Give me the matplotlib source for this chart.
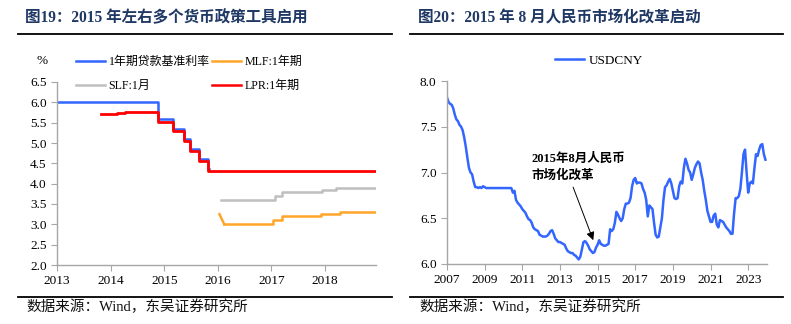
import matplotlib
matplotlib.use("Agg")
import matplotlib.pyplot as plt
import pandas as pd
from matplotlib.lines import Line2D

plt.rcParams['font.family'] = ['Liberation Serif', 'Noto Sans CJK SC']
plt.rcParams['axes.unicode_minus'] = False

# ---- 图19 数据 (年份小数, 数值) ----
loan_x = [2013.0, 2014.89, 2015.16, 2015.36, 2015.49, 2015.65, 2015.81, 2015.83]
loan_y = [6.0, 5.6, 5.35, 5.1, 4.85, 4.6, 4.35, 4.35]

lpr_x = [2013.82, 2013.97, 2014.12, 2014.27, 2014.45, 2014.89, 2015.16, 2015.36,
         2015.49, 2015.65, 2015.81, 2018.3, 2018.95]
lpr_y = [5.71, 5.72, 5.73, 5.77, 5.76, 5.51, 5.30, 5.06, 4.81, 4.56, 4.30, 4.31, 4.31]

slf_x = [2016.06, 2017.07, 2017.19, 2017.94, 2018.2, 2018.95]
slf_y = [3.6, 3.7, 3.8, 3.85, 3.9, 3.9]

mlf_x = [2016.03, 2016.12, 2017.02, 2017.19, 2017.93, 2018.27, 2018.95]
mlf_y = [3.25, 3.0, 3.1, 3.2, 3.25, 3.3, 3.3]

# ---- 图20 数据: USDCNY 月度, 2007-01 至 2023-12 ----
usdcny = [
    7.82, 7.77, 7.75, 7.74, 7.70, 7.63, 7.58, 7.56, 7.52, 7.50, 7.46, 7.38,  # 2007
    7.28, 7.16, 7.05, 7.00, 6.98, 6.90, 6.84, 6.84, 6.83, 6.84, 6.83, 6.85,  # 2008
    6.84, 6.83, 6.83, 6.83, 6.83, 6.83, 6.83, 6.83, 6.83, 6.83, 6.83, 6.83,  # 2009
    6.83, 6.83, 6.83, 6.83, 6.83, 6.83, 6.78, 6.80, 6.70, 6.67, 6.65, 6.63,  # 2010
    6.60, 6.58, 6.56, 6.52, 6.49, 6.48, 6.45, 6.40, 6.38, 6.37, 6.36, 6.32,  # 2011
    6.31, 6.30, 6.30, 6.30, 6.31, 6.33, 6.36, 6.37, 6.33, 6.28, 6.26, 6.24,  # 2012
    6.24, 6.23, 6.22, 6.21, 6.17, 6.14, 6.13, 6.12, 6.12, 6.10, 6.09, 6.07,  # 2013
    6.05, 6.08, 6.16, 6.24, 6.25, 6.23, 6.20, 6.16, 6.14, 6.12, 6.13, 6.18,  # 2014
    6.21, 6.26, 6.22, 6.21, 6.20, 6.20, 6.21, 6.22, 6.38, 6.36, 6.38, 6.45,  # 2015
    6.57, 6.54, 6.50, 6.47, 6.50, 6.60, 6.66, 6.66, 6.67, 6.72, 6.85, 6.92,  # 2016
    6.94, 6.88, 6.89, 6.89, 6.88, 6.82, 6.78, 6.70, 6.52, 6.64, 6.62, 6.60,  # 2017
    6.45, 6.32, 6.29, 6.30, 6.40, 6.50, 6.70, 6.84, 6.86, 6.90, 6.93, 6.88,  # 2018
    6.80, 6.72, 6.71, 6.72, 6.85, 6.90, 6.88, 7.05, 7.15, 7.10, 7.03, 7.00,  # 2019
    6.92, 6.98, 7.05, 7.09, 7.12, 7.10, 7.00, 6.92, 6.80, 6.70, 6.58, 6.52,  # 2020
    6.46, 6.46, 6.53, 6.55, 6.43, 6.40, 6.48, 6.47, 6.46, 6.43, 6.40, 6.38,  # 2021
    6.36, 6.33, 6.33, 6.55, 6.72, 6.72, 6.74, 6.82, 7.00, 7.20, 7.25, 7.00,  # 2022
    6.78, 6.88, 6.90, 6.88, 7.05, 7.20, 7.18, 7.25, 7.30, 7.31, 7.20, 7.14,  # 2023
]
fx_dates = pd.date_range("2007-01-01", periods=len(usdcny), freq="MS")
fx_x = fx_dates.year + (fx_dates.month - 1) / 12.0

left_ticks = [2013, 2014, 2015, 2016, 2017, 2018]
right_ticks = [2007, 2009, 2011, 2013, 2015, 2017, 2019, 2021, 2023]

title_color = '#1F3864'
blue = '#3366FF'
spine_c = '#A6A6A6'

fig = plt.figure(figsize=(7.91, 3.24), dpi=100)
W, H = 791.0, 324.0


def px(x, y):
    return x / W, 1 - y / H


def style(ax):
    for s in ['top', 'right']:
        ax.spines[s].set_visible(False)
    for s in ['left', 'bottom']:
        ax.spines[s].set_color(spine_c)
        ax.spines[s].set_linewidth(1.0)
    ax.tick_params(colors=spine_c, labelcolor='black', labelsize=9.5,
                   length=4, width=0.8, direction='out')


# ---------- 左图 ----------
ax1 = fig.add_axes([57 / W, 59 / H, 319 / W, 183 / H])
style(ax1)
ax1.step(loan_x, loan_y, where='post', color=blue, lw=1.8, label='1年期贷款基准利率')
ax1.step(slf_x, slf_y, where='post', color='#BFBFBF', lw=1.8, label='SLF:1月')
ax1.plot(mlf_x[:2], mlf_y[:2], color='#FFA529', lw=1.8)
ax1.step(mlf_x[1:], mlf_y[1:], where='post', color='#FFA529', lw=1.8, label='MLF:1年期')
ax1.step(lpr_x, lpr_y, where='post', color='#FF0000', lw=2.0, label='LPR:1年期')
ax1.set_xlim(2013, 2018.95)
ax1.set_ylim(2.0, 6.5)
ax1.set_xticks(left_ticks)
ax1.set_yticks([2.0, 2.5, 3.0, 3.5, 4.0, 4.5, 5.0, 5.5, 6.0, 6.5])
ax1.yaxis.set_major_formatter(matplotlib.ticker.FormatStrFormatter('%.1f'))

handles = [Line2D([], [], color=blue, lw=1.8),
           Line2D([], [], color='#BFBFBF', lw=1.8),
           Line2D([], [], color='#FFA529', lw=1.8),
           Line2D([], [], color='#FF0000', lw=1.8)]
labels = ['1年期贷款基准利率', 'SLF:1月', 'MLF:1年期', 'LPR:1年期']
fig.legend(handles, labels, ncol=2, loc='upper left',
           bbox_to_anchor=px(68, 48), frameon=False, fontsize=8.6,
           handlelength=2.4, handletextpad=0.3, columnspacing=0.2,
           labelspacing=0.95, borderpad=0.2)
fig.text(*px(42, 61), '%', fontsize=9.5, ha='center', va='center')

# ---------- 右图 ----------
ax2 = fig.add_axes([447 / W, 60 / H, 320 / W, 183 / H])
style(ax2)
ax2.plot(fx_x, usdcny, color=blue, lw=1.8, label='USDCNY')
ax2.set_xlim(2007, 2024)
ax2.set_ylim(6.0, 8.0)
ax2.set_xticks(right_ticks)
ax2.set_yticks([6.0, 6.5, 7.0, 7.5, 8.0])
ax2.yaxis.set_major_formatter(matplotlib.ticker.FormatStrFormatter('%.1f'))
fig.legend([Line2D([], [], color=blue, lw=1.8)], ['USDCNY'], loc='center',
           bbox_to_anchor=px(599, 61), frameon=False, fontsize=9.5,
           handlelength=2.2, handletextpad=0.3)

ax2.text(2011.47, 7.22, '2015年8月人民币\n市场化改革', fontsize=9, fontweight='bold',
         ha='left', va='top', linespacing=1.5)
ax2.annotate('', xy=(2014.77, 6.26), xytext=(2013.70, 6.84),
             arrowprops=dict(arrowstyle='-|>', color='black', lw=0.7,
                             mutation_scale=12, shrinkA=0, shrinkB=0))

# ---------- 标题, 分隔线, 来源 ----------
titles = [(25, '图19：2015 年左右多个货币政策工具启用'),
          (418, '图20：2015 年 8 月人民币市场化改革启动')]
for x0, t in titles:
    fig.text(*px(x0, 18), t, fontsize=11.2, fontweight='bold', color=title_color,
             ha='left', va='center')
    fig.text(*px(x0 + 1, 307), '数据来源：Wind，东吴证券研究所', fontsize=10.5,
             ha='left', va='center', color='#111111')

for x0, x1 in [(18, 392), (410, 783)]:
    for yy in (34, 297):
        fig.add_artist(Line2D([x0 / W, x1 / W], [1 - yy / H, 1 - yy / H],
                              color='black', lw=1.3))

fig.savefig('out.png', dpi=100)
